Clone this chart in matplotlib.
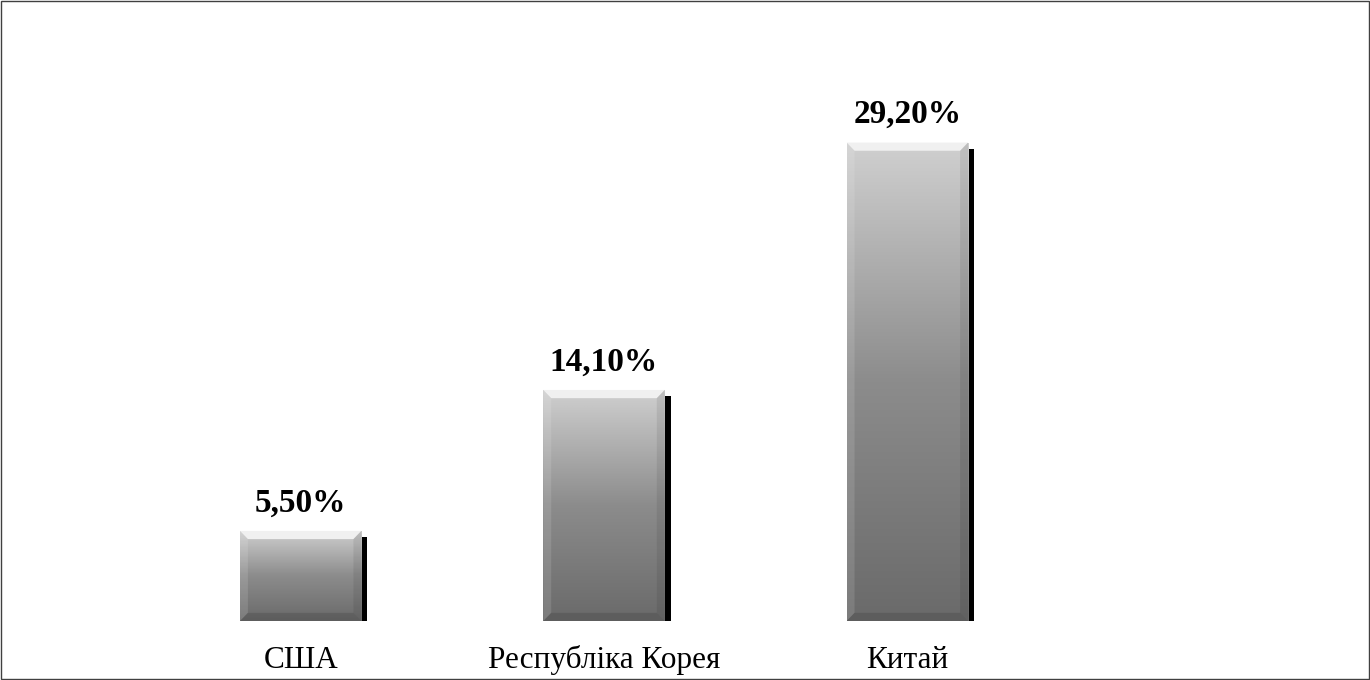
import matplotlib.pyplot as plt
import matplotlib.patches as mpatches
import matplotlib.transforms as mtransforms
import numpy as np

countries = ["США", "Республіка Корея", "Китай"]
shares = [5.5, 14.1, 29.2]
share_labels = ["5,50%", "14,10%", "29,20%"]

plt.rcParams['font.family'] = ['Liberation Serif', 'DejaVu Serif']

fig = plt.figure(figsize=(13.7, 6.8), dpi=100)
# thin frame round the whole chart area
fig.patches.append(mpatches.Rectangle((0.001, 0.002), 0.998, 0.996, transform=fig.transFigure,
                                      fill=False, edgecolor='#404040', linewidth=1.0))

ax = fig.add_axes([149 / 1370, 59 / 680, 910 / 1370, 562 / 680])
ax.set_xlim(-0.5, 2.5)
ax.set_ylim(0, 34.3)
for s in ax.spines.values():
    s.set_visible(False)
ax.set_yticks([])
ax.set_xticks([])

width = 0.4
x = np.arange(len(countries))

# vertical gray gradient used to fill each bar
grad = np.linspace(0, 1, 256).reshape(-1, 1)
cmap = plt.matplotlib.colors.LinearSegmentedColormap.from_list('bar', ['#6a6a6a', '#8c8c8c', '#d0d0d0'])

shadow_shift = mtransforms.ScaledTranslation(6 / 100, -6 / 100, fig.dpi_scale_trans)

bars = ax.bar(x, shares, width=width, color='none', zorder=3)
for rect, label, name in zip(bars, share_labels, countries):
    x0, w, h = rect.get_x(), rect.get_width(), rect.get_height()
    x1 = x0 + w
    # drop shadow
    ax.add_patch(mpatches.Rectangle((x0, 0), w, h, facecolor='black', edgecolor='none',
                                    transform=ax.transData + shadow_shift, zorder=1))
    img = ax.imshow(grad, extent=[x0, x1, 0, h], origin='lower', aspect='auto',
                    cmap=cmap, zorder=2, interpolation='bilinear')
    img.set_clip_path(rect)
    # bevel edges
    dx, dy = 0.026, 0.5
    ax.add_patch(mpatches.Polygon([(x0, h), (x1, h), (x1 - dx, h - dy), (x0 + dx, h - dy)],
                                  facecolor='#f0f0f0', edgecolor='none', zorder=4))
    ax.add_patch(mpatches.Polygon([(x0, h), (x0 + dx, h - dy), (x0 + dx, dy), (x0, 0)],
                                  facecolor='white', alpha=0.12, edgecolor='none', zorder=4))
    ax.add_patch(mpatches.Polygon([(x1, h), (x1 - dx, h - dy), (x1 - dx, dy), (x1, 0)],
                                  facecolor='black', alpha=0.08, edgecolor='none', zorder=4))
    ax.add_patch(mpatches.Polygon([(x0, 0), (x0 + dx, dy), (x1 - dx, dy), (x1, 0)],
                                  facecolor='black', alpha=0.12, edgecolor='none', zorder=4))
    ax.annotate(label, (x0 + w / 2, h), xytext=(0, 14), textcoords='offset points',
                ha='center', va='baseline', fontsize=24, fontweight='bold', zorder=5)
    ax.annotate(name, (x0 + w / 2, 0), xytext=(0, -34), textcoords='offset points',
                ha='center', va='baseline', fontsize=22.5, zorder=5, annotation_clip=False)

fig.savefig('out.png', dpi=100)
